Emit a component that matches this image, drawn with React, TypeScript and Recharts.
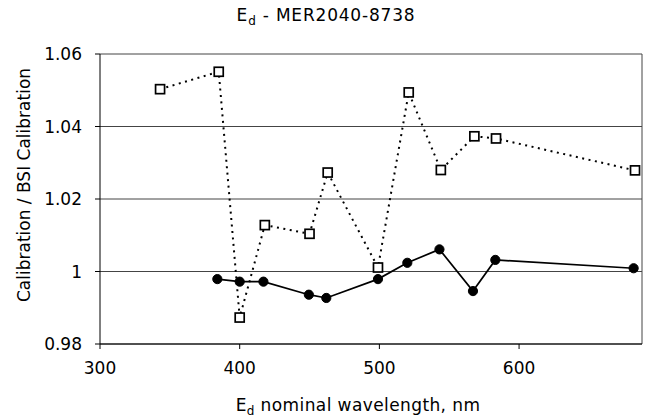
import React from 'react';
import { LineChart, Line, XAxis, YAxis, CartesianGrid, ReferenceLine } from 'recharts';

const sqWavelengths = [343, 385, 400, 418, 450, 463, 499, 521, 544, 568, 583.5, 683];
const sqValues = [1.0503, 1.0551, 0.9873, 1.0128, 1.0104, 1.0273, 1.0011, 1.0494, 1.028, 1.0373, 1.0367, 1.0279];

const dotWavelengths = [384, 400, 417, 449.5, 462, 499, 520, 543, 567, 583, 682];
const dotValues = [0.9979, 0.9972, 0.9972, 0.9936, 0.9927, 0.9979, 1.0024, 1.0061, 0.9946, 1.0032, 1.0009];

const xTicks = [300, 400, 500, 600];
const yTicks = [0.98, 1, 1.02, 1.04, 1.06];

const sqData = sqWavelengths.map((w, i) => ({ wl: w, v: sqValues[i] }));
const dotData = dotWavelengths.map((w, i) => ({ wl: w, v: dotValues[i] }));

const FONT = '"DejaVu Sans", sans-serif';

const SquareDot = (props: any) => {
  const { cx, cy, index } = props;
  if (cx == null || cy == null) return null;
  return (
    <rect key={`sq-${index}`} x={cx - 4.5} y={cy - 4.5} width={9} height={9} fill="#fff" stroke="#000" strokeWidth={1.7} />
  );
};

export default function App() {
  return (
    <div style={{ position: 'absolute', left: 0, top: 0, width: 646, height: 420, background: '#fff' }}>
      <LineChart
        width={646}
        height={420}
        margin={{ top: 54, right: 4, bottom: 46, left: 0 }}
        style={{ fontFamily: FONT }}
      >
        <CartesianGrid horizontal vertical={false} stroke="#444" strokeWidth={1} />
        <XAxis
          dataKey="wl"
          type="number"
          domain={[300, 688]}
          ticks={xTicks}
          height={30}
          tickSize={5}
          tickMargin={13}
          stroke="#000"
          tick={{ fill: '#000', fontSize: 17, fontFamily: FONT }}
          allowDataOverflow
        />
        <YAxis
          type="number"
          domain={[0.98, 1.06]}
          ticks={yTicks}
          width={100}
          tickSize={5}
          tickMargin={13}
          stroke="#000"
          tick={{ fill: '#000', fontSize: 17, fontFamily: FONT }}
          allowDataOverflow
        />
        <ReferenceLine x={688} stroke="#444" strokeWidth={1} />
        <Line
          data={sqData}
          dataKey="v"
          stroke="#000"
          strokeWidth={2}
          strokeDasharray="2 4.5"
          dot={SquareDot}
          activeDot={false}
          isAnimationActive={false}
        />
        <Line
          data={dotData}
          dataKey="v"
          stroke="#000"
          strokeWidth={1.7}
          dot={{ r: 4.6, fill: '#000', stroke: '#000', strokeWidth: 1 }}
          activeDot={false}
          isAnimationActive={false}
        />
      </LineChart>
      <svg width={646} height={420} style={{ position: 'absolute', left: 0, top: 0, pointerEvents: 'none' }}>
        <text x={326} y={21} textAnchor="middle" fontSize={17} fontFamily={FONT} fill="#000" letterSpacing={0.8}>
          E<tspan fontSize={12} dy={4}>d</tspan><tspan dy={-4}> - MER2040-8738</tspan>
        </text>
        <text
          transform="translate(24,185) rotate(-90)"
          textAnchor="middle"
          dy="0.36em"
          fontSize={17}
          fontFamily={FONT}
          fill="#000"
        >
          Calibration / BSI Calibration
        </text>
        <text x={358} y={411} textAnchor="middle" fontSize={17} fontFamily={FONT} fill="#000" letterSpacing={0.4}>
          E<tspan fontSize={12} dy={4}>d</tspan><tspan dy={-4}> nominal wavelength, nm</tspan>
        </text>
      </svg>
    </div>
  );
}
